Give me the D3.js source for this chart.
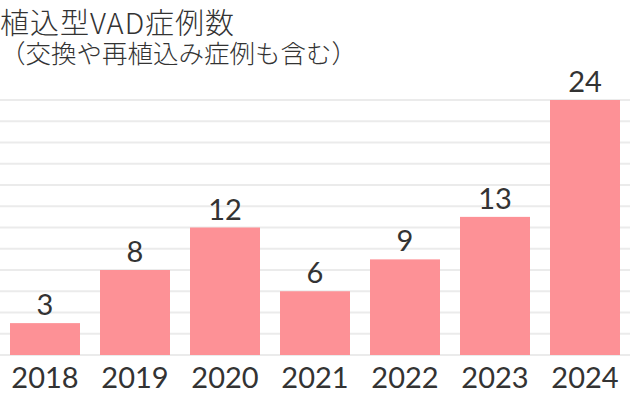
<!DOCTYPE html>
<html>
<head>
<meta charset="utf-8">
<script src="https://cdn.jsdelivr.net/npm/d3@7"></script>
<style>
  body { margin: 0; background: #fff; }
  svg { display: block; }
</style>
</head>
<body>
<svg width="630" height="398"></svg>
<script>
// chart data
let years = ["2018", "2019", "2020", "2021", "2022", "2023", "2024"];
let cases = [3, 8, 12, 6, 9, 13, 24];
let gridTicks = [0, 2, 4, 6, 8, 10, 12, 14, 16, 18, 20, 22, 24];
let title = "植込型VAD症例数";
let subtitle = "（交換や再植込み症例も含む）";

let svg = d3.select("svg");

let xScale = d3.scaleBand()
  .domain(years)
  .range([0, 630])
  .paddingInner(2 / 9)
  .paddingOuter(1 / 9);

let yScale = d3.scaleLinear()
  .domain([0, 24])
  .range([355, 100]);

// gridlines
svg.selectAll(".grid")
  .data(gridTicks)
  .enter()
  .append("line")
  .attr("class", "grid")
  .attr("x1", 0)
  .attr("x2", 630)
  .attr("y1", d => yScale(d))
  .attr("y2", d => yScale(d))
  .style("stroke", "#ebebeb")
  .style("stroke-width", 2);

// bars
svg.selectAll(".bar")
  .data(cases)
  .enter()
  .append("rect")
  .attr("class", "bar")
  .attr("x", (d, i) => xScale(years[i]))
  .attr("y", d => yScale(d))
  .attr("width", xScale.bandwidth())
  .attr("height", d => yScale(0) - yScale(d))
  .style("fill", "#fd9196");

// value labels
svg.selectAll(".val")
  .data(cases)
  .enter()
  .append("text")
  .attr("class", "val")
  .attr("x", (d, i) => xScale(years[i]) + xScale.bandwidth() / 2)
  .attr("y", d => yScale(d) - 8)
  .attr("text-anchor", "middle")
  .style("font-family", "Lato, 'Noto Sans', sans-serif")
  .style("font-size", "29px")
  .style("fill", "#333")
  .text(d => d);

// x axis labels
let xAxis = d3.axisBottom(xScale).tickSize(0).tickPadding(12);
let gx = svg.append("g")
  .attr("transform", "translate(0,355)")
  .call(xAxis);
gx.select(".domain").remove();
gx.selectAll("text")
  .attr("dy", "0.71em")
  .style("font-family", "Lato, 'Noto Sans', sans-serif")
  .style("font-size", "29px")
  .style("fill", "#333");

// titles
svg.append("text")
  .attr("x", 0)
  .attr("y", 34)
  .style("font-family", "'Noto Sans CJK JP', sans-serif")
  .style("font-size", "29px")
  .style("font-weight", 300)
  .style("letter-spacing", "1px")
  .style("fill", "#333")
  .text(title);

svg.append("text")
  .attr("x", 0)
  .attr("y", 63)
  .style("font-family", "'Noto Sans CJK JP', sans-serif")
  .style("font-size", "25.5px")
  .style("font-weight", 300)
  .style("fill", "#333")
  .text(subtitle);
</script>
</body>
</html>
